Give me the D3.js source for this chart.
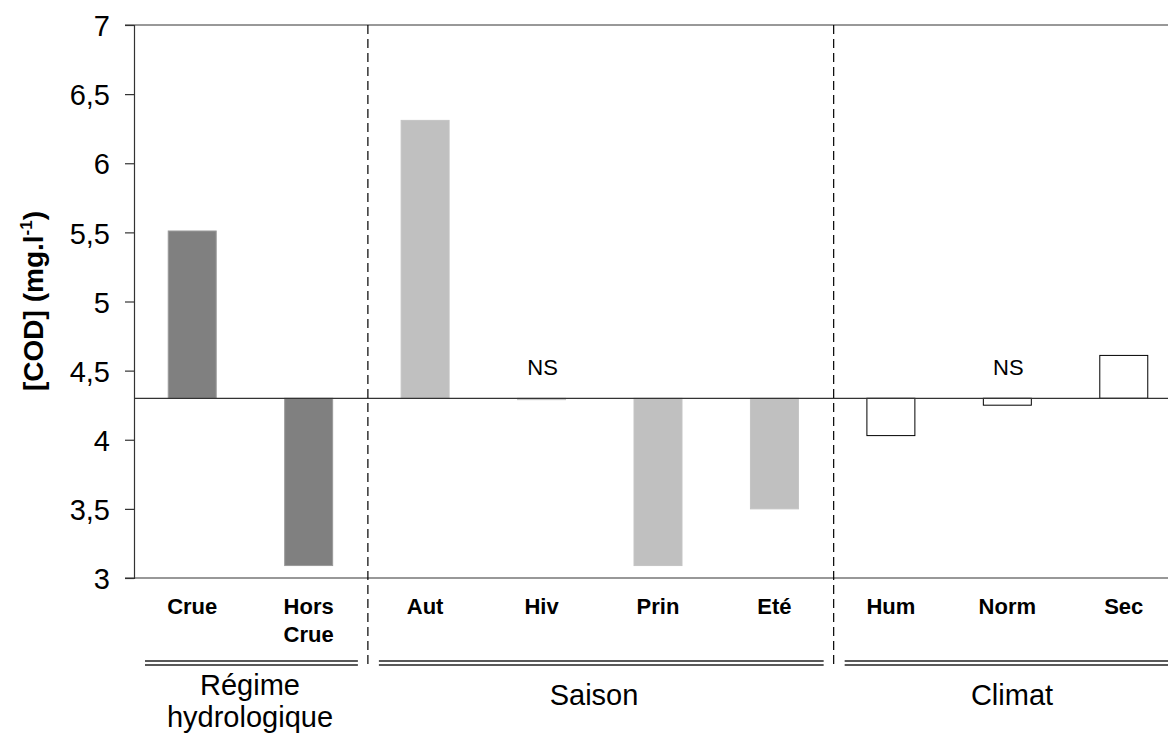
<!DOCTYPE html>
<html>
<head>
<meta charset="utf-8">
<script src="https://cdn.jsdelivr.net/npm/d3@7"></script>
<style>
  html, body { margin: 0; padding: 0; background: #fff; }
  svg { display: block; font-family: "Liberation Sans", Arial, sans-serif; }
</style>
</head>
<body>
<svg id="chart" width="1168" height="734"></svg>
<script>
// ---- data ----
const categories = ["Crue", "Hors Crue", "Aut", "Hiv", "Prin", "Eté", "Hum", "Norm", "Sec"];
const values     = [5.51, 3.09, 6.31, 4.29, 3.09, 3.50, 4.03, 4.25, 4.61];
const groupIndex = [0, 0, 1, 1, 1, 1, 2, 2, 2];
const groupNames = [["Régime", "hydrologique"], ["Saison"], ["Climat"]];
const groupFills = ["#808080", "#c0c0c0", "#ffffff"];
const groupStrokes = ["#9a9a9a", "#c4c4c4", "#000000"];
const nsCategories = ["Hiv", "Norm"];
const baselineValue = 4.3;
const yTicks = [3, 3.5, 4, 4.5, 5, 5.5, 6, 6.5, 7];
const yTitle = "[COD] (mg.l";

// ---- layout ----
const svg = d3.select("#chart");
const x = d3.scaleBand().domain(categories).range([134, 1182])
  .paddingInner(0.588).paddingOuter(0.294);
const y = d3.scaleLinear().domain([3, 7]).range([578, 25]);
const center = c => x(c) + x.bandwidth() / 2;
const axisColor = "#333";

// top border
svg.append("line").attr("x1", 125).attr("x2", 1168)
  .attr("y1", y(7)).attr("y2", y(7)).attr("stroke", axisColor).attr("stroke-width", 1);

// bars
svg.append("g").selectAll("rect").data(categories).join("rect")
  .attr("x", c => x(c))
  .attr("width", x.bandwidth())
  .attr("y", (c, i) => y(Math.max(values[i], baselineValue)))
  .attr("height", (c, i) => Math.abs(y(values[i]) - y(baselineValue)))
  .attr("fill", (c, i) => groupFills[groupIndex[i]])
  .attr("stroke", (c, i) => groupStrokes[groupIndex[i]])
  .attr("stroke-width", 1);

// baseline (category axis crossing)
svg.append("line").attr("x1", 134).attr("x2", 1168)
  .attr("y1", y(baselineValue)).attr("y2", y(baselineValue))
  .attr("stroke", axisColor).attr("stroke-width", 1.2);

// y axis
const yAxis = d3.axisLeft(y).tickValues(yTicks).tickSize(9).tickPadding(15)
  .tickFormat(d => String(d).replace(".", ","));
const gy = svg.append("g").attr("transform", "translate(134,0)").call(yAxis);
gy.select(".domain").attr("stroke", axisColor).attr("stroke-width", 1.2);
gy.selectAll(".tick line").attr("stroke", axisColor).attr("stroke-width", 1.2);
gy.selectAll(".tick text").attr("font-size", 29).attr("fill", "#000")
  .attr("font-family", "Liberation Sans, Arial, sans-serif").attr("dy", "0.37em");

// bottom line
svg.append("line").attr("x1", 125).attr("x2", 1168)
  .attr("y1", y(3)).attr("y2", y(3)).attr("stroke", axisColor).attr("stroke-width", 1.2);

// category labels
const catG = svg.append("g");
categories.forEach(c => {
  const words = c.split(" ");
  const t = catG.append("text").attr("x", center(c)).attr("y", 614)
    .attr("text-anchor", "middle").attr("font-size", 22).attr("font-weight", "bold").attr("fill", "#000");
  words.forEach((w, k) => {
    t.append("tspan").attr("x", center(c)).attr("dy", k === 0 ? 0 : 28).text(w);
  });
});

// NS labels
svg.append("g").selectAll("text").data(nsCategories).join("text")
  .attr("x", c => center(c) + 1).attr("y", 375)
  .attr("text-anchor", "middle").attr("font-size", 22).attr("fill", "#000")
  .text("NS");

// group separators (dashed)
const seps = [];
for (let i = 1; i < categories.length; i++) {
  if (groupIndex[i] !== groupIndex[i - 1]) seps.push((center(categories[i - 1]) + center(categories[i])) / 2 + 1);
}
svg.append("g").selectAll("line").data(seps).join("line")
  .attr("x1", d => d).attr("x2", d => d).attr("y1", 25).attr("y2", 664)
  .attr("stroke", "#000").attr("stroke-width", 1.2).attr("stroke-dasharray", "9,5");

// group double underlines and names
const groupLabelX = [250, 594, 1012];
const bounds = [134].concat(seps).concat([1182]);
groupNames.forEach((name, g) => {
  const x1 = bounds[g] + 11, x2 = Math.min(bounds[g + 1] - 10, 1168);
  [661, 665].forEach(yy => {
    svg.append("line").attr("x1", x1).attr("x2", x2).attr("y1", yy).attr("y2", yy)
      .attr("stroke", "#222").attr("stroke-width", 1.6);
  });
  const t = svg.append("text").attr("text-anchor", "middle").attr("font-size", 29).attr("fill", "#000")
    .attr("y", name.length > 1 ? 695 : 705);
  name.forEach((w, k) => {
    t.append("tspan").attr("x", groupLabelX[g]).attr("dy", k === 0 ? 0 : 32).text(w);
  });
});

// y title
const yt = svg.append("text").attr("transform", "translate(43,301) rotate(-90)")
  .attr("text-anchor", "middle").attr("font-size", 28).attr("font-weight", "bold").attr("fill", "#000");
yt.append("tspan").text(yTitle);
yt.append("tspan").attr("font-size", 17).attr("dy", -11).text("-1");
yt.append("tspan").attr("dy", 11).text(")");
</script>
</body>
</html>
